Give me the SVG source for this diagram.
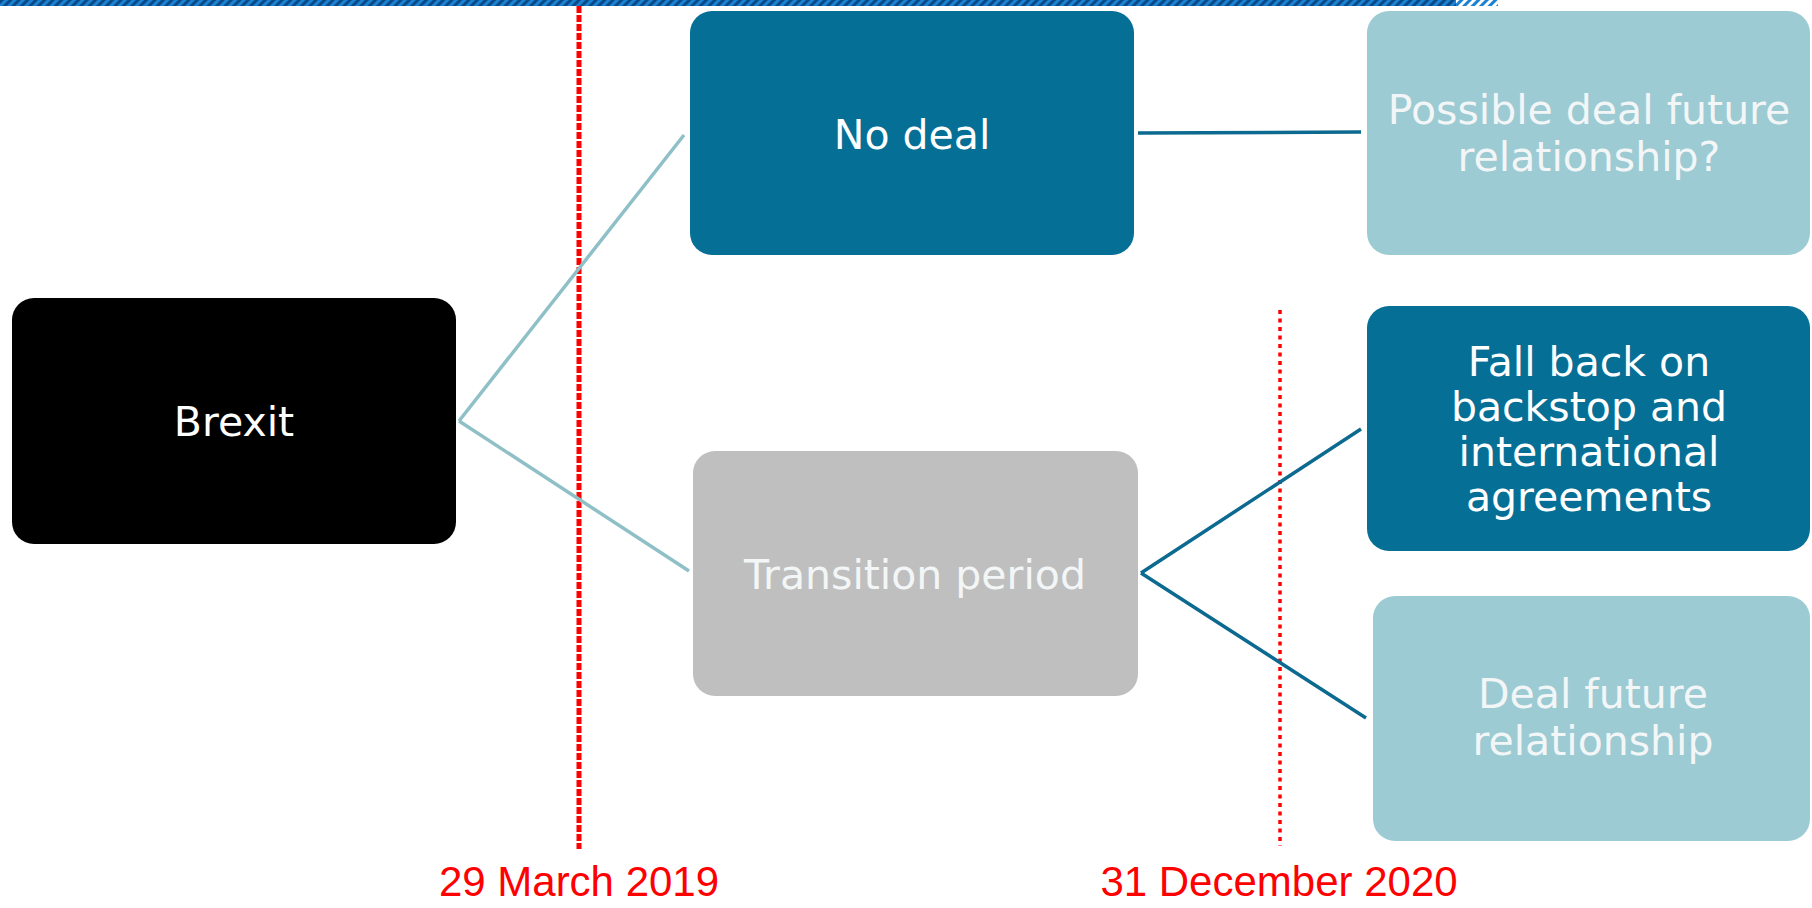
<svg xmlns="http://www.w3.org/2000/svg" width="1812" height="908" viewBox="0 0 1812 908">
<defs>
<pattern id="stripes" patternUnits="userSpaceOnUse" width="6" height="6" patternTransform="rotate(45)">
<rect x="0" y="0" width="6" height="6" fill="#1b82d2"/>
<rect x="0" y="0" width="3" height="6" fill="#0b4a88"/>
</pattern>
<pattern id="stripes2" patternUnits="userSpaceOnUse" width="6" height="6" patternTransform="rotate(45)">
<rect x="0" y="0" width="3" height="6" fill="#1b82d2"/>
</pattern>
</defs>
<style>
.node text{font-family:"DejaVu Sans",Verdana,sans-serif;font-size:41px;text-anchor:middle}
.dark rect{fill:#066f96}
.light rect{fill:#9ccbd3}
.grey rect{fill:#bfbfbf}
.black rect{fill:#000000}
.wt{fill:#ffffff}
.lt{fill:#f3f6f7}
.conn line{fill:none;stroke-width:3.5}
.c1{stroke:#8fc0c7}
.c2{stroke:#0c6a90}
.date{font-family:"Liberation Sans",Arial,sans-serif;font-size:42px;fill:#ff0000;text-anchor:middle}
</style>
<rect width="1812" height="908" fill="#ffffff"/>
<rect x="0" y="0" width="1456" height="6" fill="url(#stripes)"/>
<rect x="1456" y="0" width="42" height="6" fill="url(#stripes2)"/>

<g id="timelines">
<line x1="579" y1="6" x2="579" y2="849" stroke="#ff0000" stroke-width="5" stroke-dasharray="7 2"/>
<line x1="1280" y1="310" x2="1280" y2="846" stroke="#ff0000" stroke-width="3.5" stroke-dasharray="4 4.5"/>
</g>

<g id="connectors" class="conn">
<line class="c1" x1="459" y1="421" x2="684" y2="135"/>
<line class="c1" x1="459" y1="421" x2="689" y2="571"/>
<line class="c2" x1="1138" y1="133" x2="1361" y2="132"/>
<line class="c2" x1="1141" y1="573" x2="1361" y2="429"/>
<line class="c2" x1="1141" y1="573" x2="1366" y2="718"/>
</g>

<g id="brexit" class="node black">
<rect x="12" y="298" width="444" height="246" rx="22"/>
<text class="wt" x="234" y="436">Brexit</text>
</g>
<g id="no-deal" class="node dark">
<rect x="690" y="11" width="444" height="244" rx="22"/>
<text class="wt" x="912" y="149">No deal</text>
</g>
<g id="transition" class="node grey">
<rect x="693" y="451" width="445" height="245" rx="22"/>
<text class="lt" x="915" y="589">Transition period</text>
</g>
<g id="possible-deal" class="node light">
<rect x="1367" y="11" width="443" height="244" rx="22"/>
<text class="lt" x="1589" y="124">Possible deal future</text>
<text class="lt" x="1589" y="171">relationship?</text>
</g>
<g id="fall-back" class="node dark">
<rect x="1367" y="306" width="443" height="245" rx="22"/>
<text class="wt" x="1589" y="376">Fall back on</text>
<text class="wt" x="1589" y="421">backstop and</text>
<text class="wt" x="1589" y="466">international</text>
<text class="wt" x="1589" y="511">agreements</text>
</g>
<g id="deal-future" class="node light">
<rect x="1373" y="596" width="437" height="245" rx="22"/>
<text class="lt" x="1593" y="708">Deal future</text>
<text class="lt" x="1593" y="755">relationship</text>
</g>

<g id="dates">
<text class="date" x="579" y="896">29 March 2019</text>
<text class="date" x="1279" y="896">31 December 2020</text>
</g>
</svg>
